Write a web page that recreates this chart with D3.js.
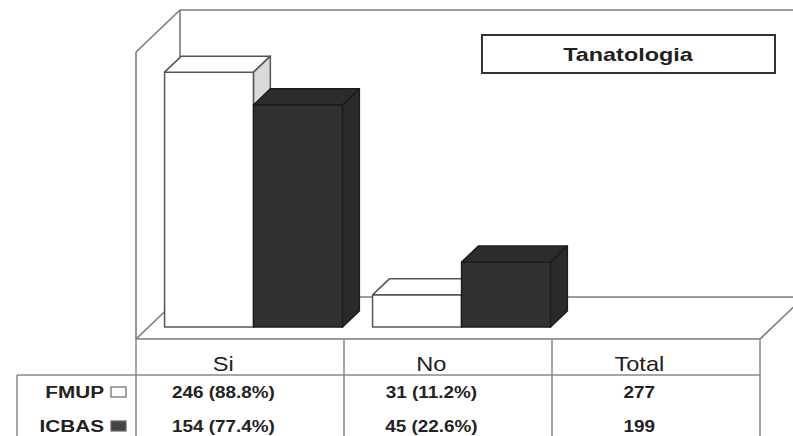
<!DOCTYPE html>
<html>
<head>
<meta charset="utf-8">
<script src="https://cdn.jsdelivr.net/npm/d3@7"></script>
<style>
  body { margin: 0; background: #fff; }
  svg { display: block; }
</style>
</head>
<body>
<div id="chart"></div>
<script>
// ---- data ----
const categories = ["Si", "No", "Total"];
const groups = ["FMUP", "ICBAS"];
const fmupCounts = [246, 31, 277];
const icbasCounts = [154, 45, 199];
const fmupPct = [88.8, 11.2];
const icbasPct = [77.4, 22.6];
const chartTitle = "Tanatologia";

// ---- layout ----
const W = 793, H = 436;
const depthDx = 44, depthDy = 42;     // floor depth in screen px
const barZ0 = 0.286, barZ1 = 0.667;   // bar depth inside the floor
const FONT = 'Liberation Sans, Arial, sans-serif';

const svg = d3.select('#chart').append('svg')
  .attr('width', W).attr('height', H);

const x = d3.scaleBand().domain(categories).range([136, 760]);
const xInner = d3.scaleBand().domain(groups).range([16, 194]);
const y = d3.scaleLinear().domain([0, 100]).range([339, 52]);

// project a point of the front plane back by depth z (0..1)
function proj(px, v, z) {
  return [px + z * depthDx, y(v) - z * depthDy];
}
const line = d3.line();

// scanned original has horizontally stretched type
function label(parent, tx, ty, str, size, weight, anchor, sx) {
  return parent.append('text')
    .attr('transform', `translate(${tx},${ty}) scale(${sx},1)`)
    .attr('text-anchor', anchor)
    .attr('font-family', FONT)
    .attr('font-size', size).attr('font-weight', weight)
    .attr('fill', '#222')
    .text(str);
}

// ---- walls and floor ----
const walls = svg.append('g')
  .attr('fill', 'none').attr('stroke', '#7a7a7a').attr('stroke-width', 1.6);
const x0 = x.range()[0], x1 = x.range()[1];
[
  [proj(x0, 0, 0), proj(x0, 100, 0)],
  [proj(x0, 100, 0), proj(x0, 100, 1)],
  [proj(x0, 100, 1), proj(x1, 100, 1)],
  [proj(x0, 0, 1), proj(x0, 100, 1)],
  [proj(x0, 0, 0), proj(x0, 0, 1)],
  [proj(x0, 0, 1), proj(x1, 0, 1)],
  [proj(x1, 0, 0), proj(x1, 0, 1)],
  [proj(x0, 0, 0), proj(x1, 0, 0)]
].forEach(seg => walls.append('path').attr('d', line(seg)));

// ---- 3D bars ----
const series = [
  { name: "FMUP", values: fmupPct, fill: '#ffffff', side: '#d9d9d9', top: '#ffffff', stroke: '#555' },
  { name: "ICBAS", values: icbasPct, fill: '#313131', side: '#2a2a2a', top: '#2c2c2c', stroke: '#1c1c1c' }
];

const bars = svg.append('g');
fmupPct.forEach((_, i) => {
  const cat = categories[i];
  series.forEach(s => {
    const v = s.values[i];
    const bx0 = x(cat) + xInner(s.name);
    const bx1 = bx0 + xInner.bandwidth();
    const g = bars.append('g')
      .attr('stroke', s.stroke).attr('stroke-width', 1.5).attr('stroke-linejoin', 'round');
    g.append('path').attr('fill', s.fill)
      .attr('d', line([proj(bx0, 0, barZ0), proj(bx1, 0, barZ0), proj(bx1, v, barZ0), proj(bx0, v, barZ0)]) + 'Z');
    g.append('path').attr('fill', s.top)
      .attr('d', line([proj(bx0, v, barZ0), proj(bx1, v, barZ0), proj(bx1, v, barZ1), proj(bx0, v, barZ1)]) + 'Z');
    g.append('path').attr('fill', s.side)
      .attr('d', line([proj(bx1, 0, barZ0), proj(bx1, v, barZ0), proj(bx1, v, barZ1), proj(bx1, 0, barZ1)]) + 'Z');
  });
});

// ---- title box ----
svg.append('rect')
  .attr('x', 482).attr('y', 35).attr('width', 293).attr('height', 38)
  .attr('fill', '#fff').attr('stroke', '#333').attr('stroke-width', 2);
label(svg, 628, 61, chartTitle, 18, 'bold', 'middle', 1.3);

// ---- data table ----
const table = svg.append('g')
  .attr('stroke', '#888').attr('stroke-width', 1.5).attr('fill', 'none');
table.append('path').attr('d', line([[17, 375], [x1, 375]]));
table.append('path').attr('d', line([[17, 375], [17, H]]));
categories.forEach(c => {
  table.append('path').attr('d', line([[x(c), 339], [x(c), H]]));
});
table.append('path').attr('d', line([[x1, 339], [x1, H]]));

const textX = c => x(c) + x.bandwidth() * 0.42;

const header = svg.append('g');
categories.forEach(c => label(header, textX(c), 371, c, 20, 'normal', 'middle', 1.18));

const rows = [
  { name: "FMUP", counts: fmupCounts, pct: fmupPct, y: 398, swatch: '#fff' },
  { name: "ICBAS", counts: icbasCounts, pct: icbasPct, y: 432, swatch: '#444' }
];

rows.forEach(r => {
  const g = svg.append('g');
  label(g, 104, r.y, r.name, 17, 'bold', 'end', 1.22);
  g.append('rect')
    .attr('x', 111).attr('y', r.y - 11).attr('width', 15).attr('height', 10)
    .attr('fill', r.swatch).attr('stroke', '#666').attr('stroke-width', 1.2);
  categories.forEach((c, i) => {
    const str = i < r.pct.length ? `${r.counts[i]} (${r.pct[i].toFixed(1)}%)` : `${r.counts[i]}`;
    label(g, textX(c), r.y, str, 16, 'bold', 'middle', 1.18);
  });
});
</script>
</body>
</html>
